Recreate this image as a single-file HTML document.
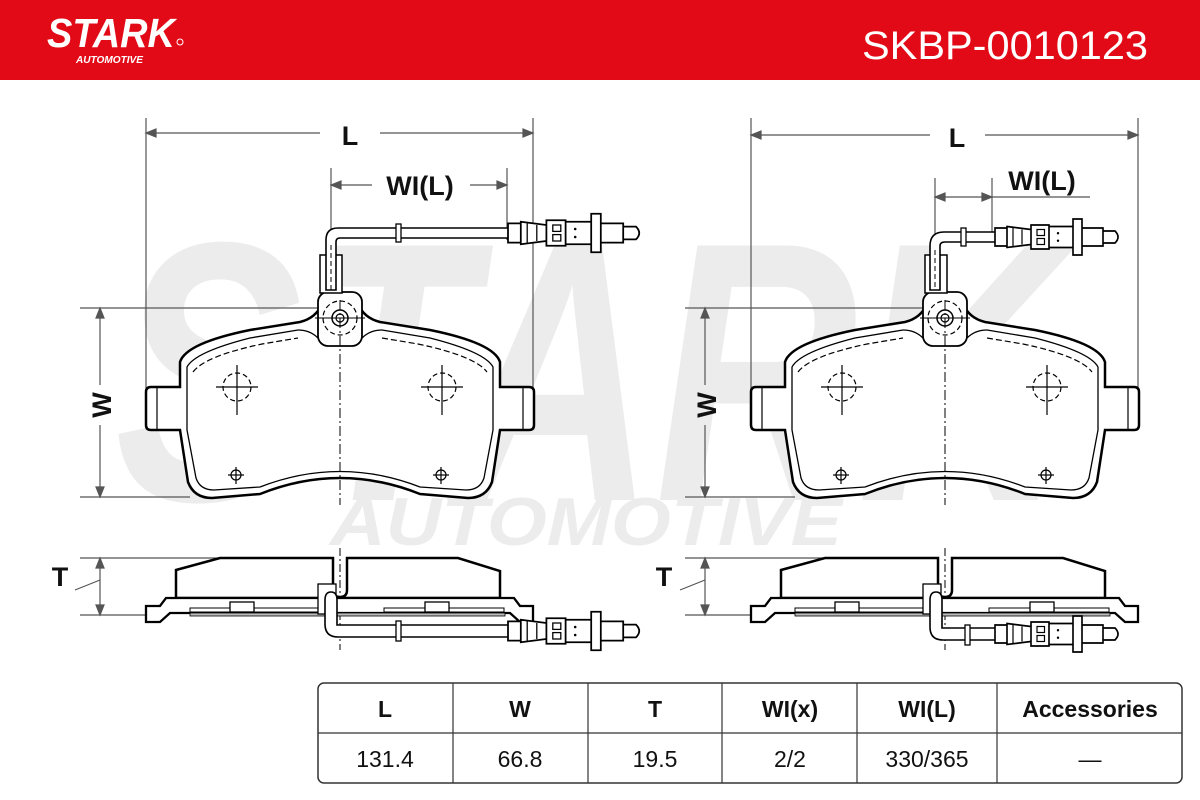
<!DOCTYPE html>
<html><head><meta charset="utf-8"><style>
html,body{margin:0;padding:0;background:#fff}
svg{display:block}
</style></head><body>
<svg width="1200" height="800" viewBox="0 0 1200 800" xmlns="http://www.w3.org/2000/svg" font-family="Liberation Sans, sans-serif">
<defs>
<g id="pad">
  <path d="M146,392 Q146,387 151,387 L180,387 L180,362 Q186,343 250,330 L300,322 Q316,318 322,304 L358,304 Q364,318 380,322 L430,330 Q494,343 500,362 L500,387 L529,387 Q534,387 534,392 L534,425 Q534,430 529,430 L500,430 L492,482 Q486,498 468,498 L420,494 Q340,462 260,494 L212,498 Q194,498 188,482 L180,430 L151,430 Q146,430 146,425 Z" fill="#fff" stroke="#000" stroke-width="2.5"/>
  <path d="M298,330 L250,338 Q195,352 187,367 L187,430 L196,478 Q200,490 214,490 L260,487 Q340,456 420,487 L466,490 Q480,490 484,478 L493,430 L493,367 Q485,352 430,338 L382,330" fill="none" stroke="#000" stroke-width="1.3"/>
  <path d="M193,372 Q205,356 262,344 L298,338 M382,338 L418,344 Q475,356 487,372" fill="none" stroke="#000" stroke-width="1.2" stroke-dasharray="6,3"/>
  <line x1="157" y1="387" x2="157" y2="430" stroke="#000" stroke-width="1.2"/>
  <line x1="523" y1="387" x2="523" y2="430" stroke="#000" stroke-width="1.2"/>
  <path d="M298,330 Q310,330 318,338 M382,330 Q370,330 362,338" fill="none" stroke="#000" stroke-width="1.3"/>
  <rect x="318" y="292" width="44" height="54" rx="10" fill="#fff" stroke="#000" stroke-width="1.8"/>
  <circle cx="340" cy="318" r="17" fill="none" stroke="#000" stroke-width="1.2" stroke-dasharray="5,3"/>
  <circle cx="340" cy="318" r="8" fill="none" stroke="#000" stroke-width="1.5"/>
  <circle cx="340" cy="318" r="4" fill="none" stroke="#000" stroke-width="1.2"/>
  <rect x="320" y="255" width="22" height="38" fill="#fff" stroke="#000" stroke-width="1.5"/>
  <line x1="340" y1="300" x2="340" y2="505" stroke="#000" stroke-width="1" stroke-dasharray="10,3,2,3"/>
  <line x1="315" y1="318" x2="365" y2="318" stroke="#000" stroke-width="1"/>
  <g fill="none" stroke="#000" stroke-width="1.2">
    <circle cx="237" cy="387" r="14" stroke-dasharray="5,3"/>
    <line x1="216" y1="387" x2="258" y2="387"/><line x1="237" y1="365" x2="237" y2="415"/>
    <circle cx="442" cy="387" r="14" stroke-dasharray="5,3"/>
    <line x1="421" y1="387" x2="463" y2="387"/><line x1="442" y1="365" x2="442" y2="415"/>
    <circle cx="236" cy="475" r="5"/><line x1="228" y1="475" x2="244" y2="475"/><line x1="236" y1="467" x2="236" y2="484"/>
    <circle cx="441" cy="475" r="5"/><line x1="433" y1="475" x2="449" y2="475"/><line x1="441" y1="467" x2="441" y2="484"/>
  </g>
</g>
<g id="side">
  <path d="M176,598 L176,570 L220,558 L333,558 L333,590 Q333,597 340,597 Q347,597 347,590 L347,558 L458,558 L500,571 L500,598 Z" fill="#fff" stroke="#000" stroke-width="2.5"/>
  <line x1="340" y1="548" x2="340" y2="650" stroke="#000" stroke-width="1" stroke-dasharray="8,3,2,3"/>
  <path d="M146,606 L160,606 L166,598 L514,598 L520,606 L533,606 L533,622 L520,622 L510,613 L170,613 L160,622 L146,622 Z" fill="#fff" stroke="#000" stroke-width="2.3"/>
  <rect x="190" y="608" width="135" height="4" fill="#fff" stroke="#000" stroke-width="1"/>
  <rect x="384" y="608" width="120" height="4" fill="#fff" stroke="#000" stroke-width="1"/>
  <rect x="230" y="602" width="24" height="10" fill="#fff" stroke="#000" stroke-width="1.3"/>
  <rect x="425" y="602" width="24" height="10" fill="#fff" stroke="#000" stroke-width="1.3"/>
  <rect x="190" y="613" width="315" height="3" fill="#bbb" stroke="#000" stroke-width="0.8"/>
  <rect x="318" y="584" width="18" height="30" fill="#fff" stroke="#000" stroke-width="1.3"/>
</g>
<g id="conn">
  <path d="M0,-6 L8,-6 L8,6 L0,6 Z M8,-7 L24,-5 L24,5 L8,7 Z M24,-8 L36,-8 L36,8 L24,8 Z M36,-7 L52,-7 L52,7 L36,7 Z M52,-12 L58,-12 L58,12 L52,12 Z M58,-6 L72,-6 L72,6 L58,6 Z M72,-4 L80,-4 Q84,0 80,4 L72,4 Z" fill="#fff" stroke="#000" stroke-width="1.1"/>
  <rect x="28" y="-5" width="5" height="4" fill="none" stroke="#000" stroke-width="0.8"/>
  <rect x="28" y="1" width="5" height="4" fill="none" stroke="#000" stroke-width="0.8"/>
  <circle cx="42" cy="-2.5" r="0.8" fill="#000"/><circle cx="42" cy="2.5" r="0.8" fill="#000"/>
  <line x1="12" y1="-6" x2="12" y2="6" stroke="#000" stroke-width="0.8"/>
  <line x1="18" y1="-5" x2="18" y2="5" stroke="#000" stroke-width="0.8"/>
</g>
</defs>

<rect x="0" y="0" width="1200" height="80" fill="#e20a17"/>
<text x="47" y="47" font-size="41" font-weight="bold" font-style="italic" fill="#fff" textLength="128" lengthAdjust="spacingAndGlyphs">STARK</text>
<circle cx="180" cy="42" r="3" fill="none" stroke="#fff" stroke-width="1"/>
<text x="76" y="63" font-size="10" font-weight="bold" font-style="italic" fill="#fff" textLength="67" lengthAdjust="spacingAndGlyphs">AUTOMOTIVE</text>
<text x="862" y="59" font-size="40" fill="#fff" textLength="286" lengthAdjust="spacingAndGlyphs">SKBP-0010123</text>

<text x="115" y="500" font-size="370" font-weight="bold" font-style="italic" fill="#ececec" textLength="945" lengthAdjust="spacingAndGlyphs">STARK</text>
<text x="330" y="545" font-size="68" font-weight="bold" font-style="italic" fill="#ececec" textLength="512" lengthAdjust="spacingAndGlyphs">AUTOMOTIVE</text>
<circle cx="1075" cy="425" r="15" fill="none" stroke="#ececec" stroke-width="3"/>
<text x="1075" y="433" font-size="20" font-weight="bold" fill="#ececec" text-anchor="middle">R</text>

<g stroke="#555" stroke-width="1.2" fill="#555">
  <line x1="146" y1="118" x2="146" y2="390"/><line x1="533" y1="118" x2="533" y2="390"/>
  <line x1="146" y1="133" x2="320" y2="133"/><line x1="380" y1="133" x2="533" y2="133"/>
  <path d="M146,133 l10,-4 v8z M533,133 l-10,-4 v8z"/>
  <line x1="331" y1="168" x2="331" y2="290"/><line x1="507" y1="168" x2="507" y2="240"/>
  <line x1="331" y1="185" x2="372" y2="185"/><line x1="470" y1="185" x2="507" y2="185"/>
  <path d="M331,185 l10,-4 v8z M507,185 l-10,-4 v8z"/>
  <line x1="80" y1="308" x2="320" y2="308"/><line x1="80" y1="497" x2="190" y2="497"/>
  <line x1="100" y1="308" x2="100" y2="385"/><line x1="100" y1="425" x2="100" y2="497"/>
  <path d="M100,308 l-4,10 h8z M100,497 l-4,-10 h8z"/>

  <line x1="751" y1="118" x2="751" y2="390"/><line x1="1138" y1="118" x2="1138" y2="390"/>
  <line x1="751" y1="135" x2="930" y2="135"/><line x1="985" y1="135" x2="1138" y2="135"/>
  <path d="M751,135 l10,-4 v8z M1138,135 l-10,-4 v8z"/>
  <line x1="935" y1="178" x2="935" y2="240"/><line x1="992" y1="178" x2="992" y2="240"/>
  <line x1="935" y1="197" x2="1090" y2="197"/>
  <path d="M935,197 l10,-4 v8z M992,197 l-10,-4 v8z"/>
  <line x1="685" y1="308" x2="925" y2="308"/><line x1="685" y1="497" x2="795" y2="497"/>
  <line x1="705" y1="308" x2="705" y2="385"/><line x1="705" y1="425" x2="705" y2="497"/>
  <path d="M705,308 l-4,10 h8z M705,497 l-4,-10 h8z"/>

  <line x1="80" y1="558" x2="330" y2="558"/><line x1="80" y1="615" x2="150" y2="615"/>
  <line x1="100" y1="558" x2="100" y2="615"/>
  <path d="M100,558 l-4,10 h8z M100,615 l-4,-10 h8z"/>
  <line x1="75" y1="590" x2="100" y2="580"/>
  <line x1="685" y1="558" x2="935" y2="558"/><line x1="685" y1="615" x2="755" y2="615"/>
  <line x1="705" y1="558" x2="705" y2="615"/>
  <path d="M705,558 l-4,10 h8z M705,615 l-4,-10 h8z"/>
  <line x1="680" y1="590" x2="705" y2="580"/>
</g>
<g font-weight="bold" font-size="27" fill="#111" text-anchor="middle">
  <text x="350" y="145">L</text>
  <text x="420" y="195">WI(L)</text>
  <text x="957" y="147">L</text>
  <text x="1042" y="190">WI(L)</text>
  <text transform="translate(111,405) rotate(-90)">W</text>
  <text transform="translate(716,405) rotate(-90)">W</text>
  <text x="60" y="586">T</text>
  <text x="664" y="586">T</text>
</g>

<use href="#pad"/>
<use href="#pad" x="605"/>

<path d="M326,290 L326,240 Q326,228 338,228 L510,228 L510,238 L340,238 Q336,238 336,242 L336,290 Z" fill="#fff" stroke="#000" stroke-width="1.6"/>
<line x1="331" y1="245" x2="331" y2="290" stroke="#000" stroke-width="1" stroke-dasharray="5,3"/>
<rect x="396" y="224" width="5" height="18" fill="#fff" stroke="#000" stroke-width="1.3"/>
<g transform="translate(508,233) scale(1.6)"><use href="#conn"/></g>

<path d="M930,290 L930,246 Q930,232 944,232 L1000,232 L1000,242 L945,242 Q940,242 940,246 L940,290 Z" fill="#fff" stroke="#000" stroke-width="1.6"/>
<line x1="935" y1="250" x2="935" y2="290" stroke="#000" stroke-width="1" stroke-dasharray="5,3"/>
<rect x="961" y="228" width="5" height="18" fill="#fff" stroke="#000" stroke-width="1.3"/>
<g transform="translate(995,237) scale(1.5)"><use href="#conn"/></g>

<use href="#side"/>
<use href="#side" x="605"/>
<path d="M325,600 Q325,592 331,592 Q337,592 337,600 L337,625 L510,625 L510,637 L338,637 Q325,637 325,624 Z" fill="#fff" stroke="#000" stroke-width="1.6"/>
<rect x="396" y="621" width="5" height="20" fill="#fff" stroke="#000" stroke-width="1.3"/>
<g transform="translate(508,631) scale(1.6)"><use href="#conn"/></g>
<path d="M930,600 Q930,592 936,592 Q942,592 942,600 L942,628 L1000,628 L1000,640 L943,640 Q930,640 930,627 Z" fill="#fff" stroke="#000" stroke-width="1.6"/>
<rect x="965" y="625" width="5" height="20" fill="#fff" stroke="#000" stroke-width="1.3"/>
<g transform="translate(995,634) scale(1.5)"><use href="#conn"/></g>

<rect x="318" y="683" width="864" height="100" rx="6" fill="#fff" stroke="#333" stroke-width="1.5"/>
<line x1="318" y1="733" x2="1182" y2="733" stroke="#333" stroke-width="1.2"/>
<g stroke="#333" stroke-width="1.2">
  <line x1="453" y1="683" x2="453" y2="783"/><line x1="588" y1="683" x2="588" y2="783"/>
  <line x1="722" y1="683" x2="722" y2="783"/><line x1="857" y1="683" x2="857" y2="783"/>
  <line x1="997" y1="683" x2="997" y2="783"/>
</g>
<g font-size="23" fill="#111" text-anchor="middle">
  <g font-weight="bold">
    <text x="385" y="717">L</text><text x="520" y="717">W</text><text x="655" y="717">T</text>
    <text x="790" y="717">WI(x)</text><text x="927" y="717">WI(L)</text><text x="1090" y="717">Accessories</text>
  </g>
  <text x="385" y="767">131.4</text><text x="520" y="767">66.8</text><text x="655" y="767">19.5</text>
  <text x="790" y="767">2/2</text><text x="927" y="767">330/365</text><text x="1090" y="767">—</text>
</g>
</svg>
</body></html>
